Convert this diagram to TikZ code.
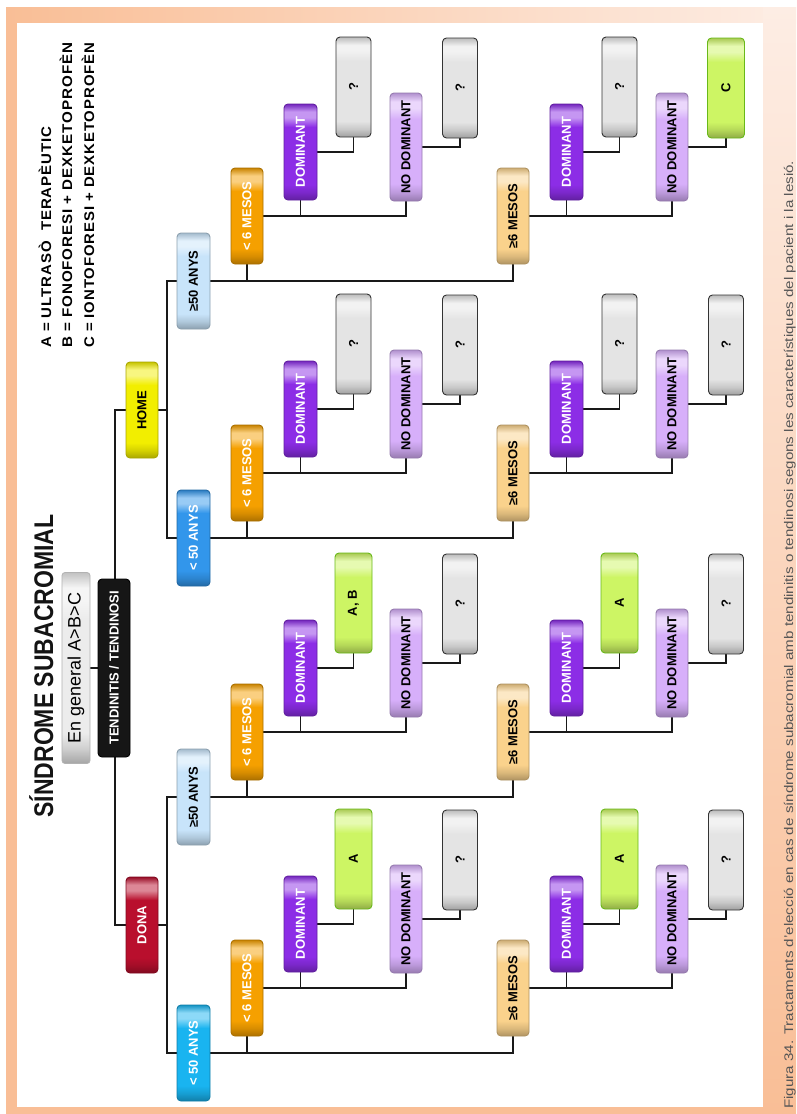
\documentclass[tikz,border=0pt]{standalone}
\usepackage{fontspec}
\usepackage{graphicx}
\setmainfont{Liberation Sans}
\newfontfamily\legfont{Liberation Sans}[LetterSpace=6]
\usetikzlibrary{backgrounds}

% palette
\definecolor{cRoot}{RGB}{22,22,22}
\definecolor{cGen}{RGB}{236,236,236}
\definecolor{cHome}{RGB}{242,238,0}
\definecolor{cDona}{RGB}{185,15,45}
\definecolor{cYoungF}{RGB}{25,180,240}
\definecolor{cYoungM}{RGB}{50,150,235}
\definecolor{cOld}{RGB}{200,228,250}
\definecolor{cShort}{RGB}{245,160,0}
\definecolor{cLong}{RGB}{250,210,140}
\definecolor{cDom}{RGB}{140,45,230}
\definecolor{cNoDom}{RGB}{215,175,250}
\definecolor{cYes}{RGB}{205,245,100}
\definecolor{cYesEdge}{RGB}{105,185,25}
\definecolor{cUnk}{RGB}{228,228,228}
\definecolor{frameA}{RGB}{249,190,150}
\definecolor{frameB}{RGB}{253,237,228}
\definecolor{capgray}{RGB}{85,85,85}

% button look: dark right edge, flat body, light stripe on the left edge
\newcommand\mkshade[2]{%
  \colorlet{#1b}{#2}\colorlet{#1l}{#2!50!white}\colorlet{#1d}{#2!70!black}%
  \colorlet{#1m}{#2!88!black}\colorlet{#1e}{#2!82!black}%
  \pgfdeclareverticalshading{#1}{100bp}{color(0bp)=(#1d); color(25bp)=(#1d);
    color(29bp)=(#1m); color(33bp)=(#1b); color(63bp)=(#1b); color(68bp)=(#1l);
    color(71bp)=(#1l); color(75bp)=(#1e); color(100bp)=(#1e)}}
\mkshade{shGen}{cGen}
\mkshade{shHome}{cHome}
\mkshade{shDona}{cDona}
\mkshade{shYoungF}{cYoungF}
\mkshade{shYoungM}{cYoungM}
\mkshade{shOld}{cOld}
\mkshade{shShort}{cShort}
\mkshade{shLong}{cLong}
\mkshade{shDom}{cDom}
\mkshade{shNoDom}{cNoDom}
\mkshade{shYes}{cYes}
\mkshade{shUnk}{cUnk}

\newcommand\boxfont{\fontsize{13}{13}\selectfont\bfseries}

\tikzset{
  btn/.style={rotate=90, rounded corners=4pt, line width=0.9pt, inner sep=0pt,
    shading=#1, draw=#1d, font=\boxfont},
  sexb/.style={btn=#1, minimum width=96pt, minimum height=32pt},
  ageb/.style={btn=#1, minimum width=96pt, minimum height=33pt},
  shortb/.style={btn=shShort, text=white, minimum width=96pt, minimum height=32pt},
  longb/.style={btn=shLong, text=black, minimum width=96pt, minimum height=32pt},
  domb/.style={btn=shDom, text=white, minimum width=96pt, minimum height=33pt},
  nodomb/.style={btn=shNoDom, text=black, minimum width=108pt, minimum height=32pt},
  yesb/.style={btn=shYes, draw=cYesEdge, text=black, minimum width=100pt, minimum height=37pt},
  unkb/.style={btn=shUnk, draw=black!80, text=black, minimum width=100pt, minimum height=35pt},
  link/.style={draw=black!90, line width=1.5pt},
  legline/.style={rotate=90, anchor=base west, inner sep=0pt,
    font=\fontsize{14}{14}\selectfont\legfont\bfseries},
}

% one duration branch: duration box, dominant / non-dominant boxes, two outcomes
\newcommand\mkbranch[9]{%
  \node[#4] (#1m) at (#2,#3-65) {#5};
  \node[domb] (#1d) at (#2+53.5,#3-129) {DOMINANT};
  \node[nodomb] (#1n) at (#2+159,#3-134) {NO DOMINANT};
  \node[#6] (#1dr) at (#2+106.5,#3-194) {#7};
  \node[#8] (#1nr) at (#2+213,#3-193) {#9};%
}
% elbow connectors inside one duration branch (#2 = age node)
\newcommand\mklinks[2]{%
  \draw[link] (#1m.west) -- (#1m.west |- #2.south);
  \draw[link] (#1m.south) -| (#1n.west);
  \draw[link] (#1d.west) -- (#1d.west |- #1m.south);
  \draw[link] (#1d.south) -| (#1dr.west);
  \draw[link] (#1n.south) -| (#1nr.west);%
}

\begin{document}
\begin{tikzpicture}[x=1pt,y=-1pt]
\useasboundingbox (0,0) rectangle (796,1114);

% page frame
\begin{pgfonlayer}{background}
  \fill[frameA] (6,7) rectangle (796,1114);
  \shade[left color=frameA, right color=frameB] (6,7) rectangle (796,23);
  \shade[top color=frameB, bottom color=frameA] (763,7) rectangle (796,1114);
  \fill[white] (17,23) rectangle (763,1107);
\end{pgfonlayer}

% legend
\node[legline] (legA) at (51,348) {\resizebox{221pt}{\height}{A = ULTRASÒ \ TERAPÈUTIC}};
\node[legline] (legB) at (72,348) {\resizebox{305pt}{\height}{B = FONOFORESI + DEXKETOPROFÈN}};
\node[legline] (legC) at (94,348) {\resizebox{305pt}{\height}{C = IONTOFORESI + DEXKETOPROFÈN}};

% title
\node[rotate=90, anchor=base, inner sep=0pt, text=black!92] (title) at (53,666)
  {\resizebox{303pt}{\height}{\fontsize{27}{27}\selectfont\bfseries SÍNDROME SUBACROMIAL}};

% root and general note
\node[rotate=90, rounded corners=3pt, line width=0.8pt, inner sep=0pt, shading=shGen,
  draw=black!30, minimum width=191pt, minimum height=28pt,
  font=\fontsize{18}{18}\selectfont] (gen) at (76,668) {En general A>B>C};
\node[rotate=90, rounded corners=4pt, line width=0.9pt, inner sep=0pt, fill=cRoot,
  draw=black, text=white, minimum width=178pt, minimum height=32pt, font=\boxfont]
  (root) at (114,668) {TENDINITIS / TENDINOSI};

% sex
\node[sexb=shHome, text=black] (home) at (142,410) {HOME};
\node[sexb=shDona, text=white] (dona) at (142,925) {DONA};

% age
\node[ageb=shOld, text=black] (mO) at (193.5,281) {≥50 ANYS};
\node[ageb=shYoungM, text=white] (mY) at (193.5,538) {< 50 ANYS};
\node[ageb=shOld, text=black] (fO) at (193.5,797) {≥50 ANYS};
\node[ageb=shYoungF, text=white] (fY) at (193.5,1053) {< 50 ANYS};

% duration branches
\mkbranch{mOa}{247}{281}{shortb}{< 6 MESOS}{unkb}{?}{unkb}{?}
\mkbranch{mOb}{513}{281}{longb}{≥6 MESOS}{unkb}{?}{yesb}{C}
\mkbranch{mYa}{247}{538}{shortb}{< 6 MESOS}{unkb}{?}{unkb}{?}
\mkbranch{mYb}{513}{538}{longb}{≥6 MESOS}{unkb}{?}{unkb}{?}
\mkbranch{fOa}{247}{797}{shortb}{< 6 MESOS}{yesb}{A, B}{unkb}{?}
\mkbranch{fOb}{513}{797}{longb}{≥6 MESOS}{yesb}{A}{unkb}{?}
\mkbranch{fYa}{247}{1053}{shortb}{< 6 MESOS}{yesb}{A}{unkb}{?}
\mkbranch{fYb}{513}{1053}{longb}{≥6 MESOS}{yesb}{A}{unkb}{?}

% caption
\node[rotate=90, anchor=base west, inner sep=0pt, text=capgray] (cap) at (793,1109)
  {\resizebox{948pt}{\height}{\fontsize{12.5}{12.5}\selectfont Figura 34. Tractaments d'elecció en cas de síndrome subacromial amb tendinitis o tendinosi segons les característiques del pacient i la lesió.}};

% connectors
\begin{pgfonlayer}{background}
  \coordinate (trM) at (115,410);
  \coordinate (trF) at (115,925);
  \coordinate (hubM) at (167,410);
  \coordinate (hubF) at (167,925);
  \draw[link] (gen.south) -- (root.north);
  \draw[link] (home.north) -- (trM) -- (trF) -- (dona.north);
  \draw[link] (home.south) -- (hubM);
  \draw[link] (dona.south) -- (hubF);
  \draw[link] (mO.north) -| (hubM) |- (mY.north);
  \draw[link] (fO.north) -| (hubF) |- (fY.north);
  \draw[link] (mO.south) -| (mObm.west);
  \draw[link] (mY.south) -| (mYbm.west);
  \draw[link] (fO.south) -| (fObm.west);
  \draw[link] (fY.south) -| (fYbm.west);
  \mklinks{mOa}{mO}
  \mklinks{mOb}{mO}
  \mklinks{mYa}{mY}
  \mklinks{mYb}{mY}
  \mklinks{fOa}{fO}
  \mklinks{fOb}{fO}
  \mklinks{fYa}{fY}
  \mklinks{fYb}{fY}
\end{pgfonlayer}
\end{tikzpicture}
\end{document}
